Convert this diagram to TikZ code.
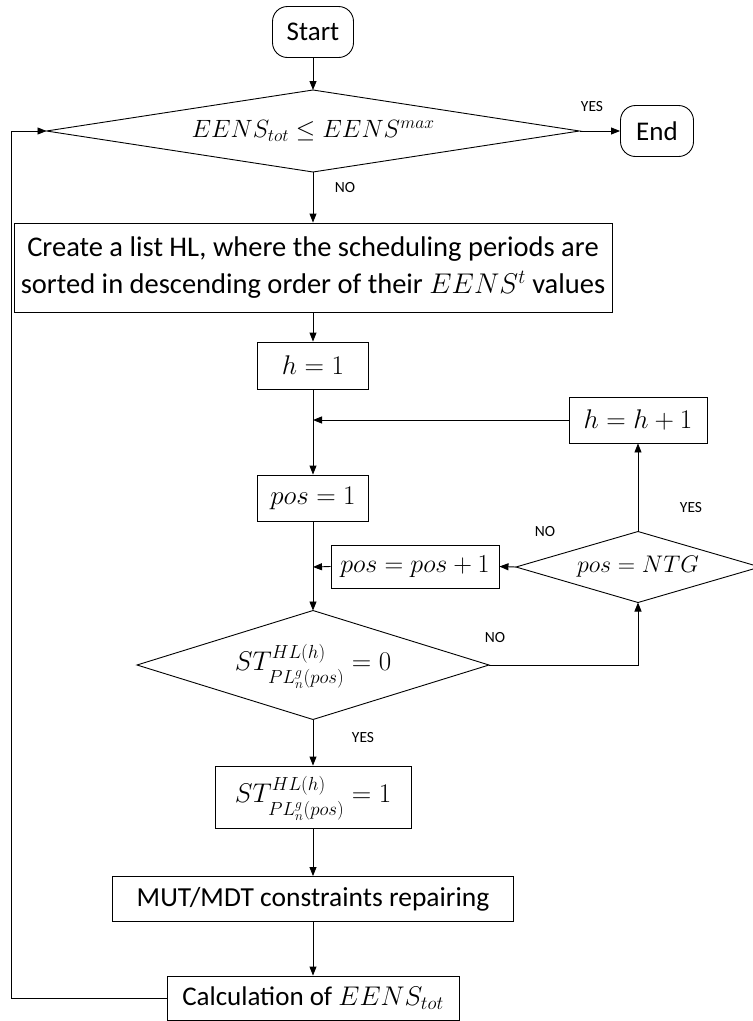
\RequirePackage{fix-cm}
\documentclass[tikz,border=0pt]{standalone}
\usepackage{fontspec}
\setmainfont{Carlito}
\usetikzlibrary{shapes.geometric,arrows.meta}
\newcommand{\stexpr}{ST^{\smash{\raisebox{3pt}{$\scriptstyle HL(h)$}}}_{\smash{\raisebox{-6pt}{$\scriptstyle PL^{g}_{n}(pos)$}}}}
\begin{document}
\begin{tikzpicture}[x=1pt,y=-1pt,
  every node/.style={font=\fontsize{27}{36}\selectfont},
  conn/.style={line width=0.9pt,-{Triangle[length=9pt,width=7pt]}},
  term/.style={draw,line width=0.9pt,rounded corners=15pt,inner sep=0pt,minimum width=#1,minimum height=51pt},
  proc/.style={draw,line width=0.9pt,inner sep=0pt},
  dec/.style={draw,line width=0.9pt,diamond,inner sep=0pt,outer sep=0pt},
  lbl/.style={font=\fontsize{15.5}{18}\selectfont,inner sep=0pt}]
\useasboundingbox (0,0) rectangle (753,1021);
\node[term=81pt] (start) at (313,32) {Start};
\node[term=73pt] (end) at (657,131) {End};
\node[dec,aspect=6.5,minimum width=533pt,minimum height=82pt,font=\fontsize{25}{30}\selectfont] (d1) at (313,131) {$EENS_{tot}\le EENS^{max}$};
\node[proc,minimum width=598pt,minimum height=89pt,align=center,font=\fontsize{28.5}{37}\selectfont] (big) at (313,267.5)
  {Create a list HL, where the scheduling periods are\\sorted in descending order of their $EENS^{t}$ values};
\node[proc,minimum width=111pt,minimum height=47pt] (h1) at (313,365.5) {$h=1$};
\node[proc,minimum width=138pt,minimum height=46pt] (hh) at (638,420) {$h=h+1$};
\node[proc,minimum width=111pt,minimum height=46pt] (pos1) at (313,498) {$pos=1$};
\node[proc,minimum width=168pt,minimum height=43pt,font=\fontsize{26}{30}\selectfont] (pospp) at (415,566.5) {$pos=pos+1$};
\node[dec,aspect=3.44,minimum width=244pt,minimum height=71pt,font=\fontsize{24}{30}\selectfont] (d2) at (638,567) {$pos=NTG$};
\node[dec,aspect=3.23,minimum width=352pt,minimum height=109pt] (d3) at (313,665) {$\stexpr=0$};
\node[proc,minimum width=196pt,minimum height=62pt] (st1) at (313,797) {$\stexpr=1$};
\node[proc,minimum width=401pt,minimum height=45pt,font=\fontsize{27.5}{33}\selectfont] (mut) at (313,899) {MUT/MDT constraints repairing};
\node[proc,minimum width=292pt,minimum height=44pt] (calc) at (313,998) {Calculation of $EENS_{tot}$};
\coordinate (m1) at (313,420);
\coordinate (m2) at (313,567);
\coordinate (l1) at (11,998);
\coordinate (l2) at (11,131);
\draw[conn] (start) -- (d1.north);
\draw[conn] (d1.east) -- (end.west);
\draw[conn] (d1.south) -- (big.north);
\draw[conn] (big.south) -- (h1.north);
\draw[conn] (h1.south) -- (pos1.north);
\draw[conn] (hh.west) -- (m1);
\draw[conn] (pos1.south) -- (d3.north);
\draw[conn] (pospp.west) -- (m2);
\draw[conn] (d2.west) -- (pospp.east);
\draw[conn] (d2.north) -- (hh.south);
\draw[conn] (d3.east) -| (d2.south);
\draw[conn] (d3.south) -- (st1.north);
\draw[conn] (st1.south) -- (mut.north);
\draw[conn] (mut.south) -- (calc.north);
\draw[conn] (calc.west) -- (l1) -- (l2) -- (d1.west);
\node[lbl] (yes1) at (592,107) {YES};
\node[lbl] (no1) at (345,188) {NO};
\node[lbl] (no2) at (545,532) {NO};
\node[lbl] (yes2) at (691,508) {YES};
\node[lbl] (no3) at (495,638) {NO};
\node[lbl] (yes3) at (363,738) {YES};
\end{tikzpicture}
\end{document}
